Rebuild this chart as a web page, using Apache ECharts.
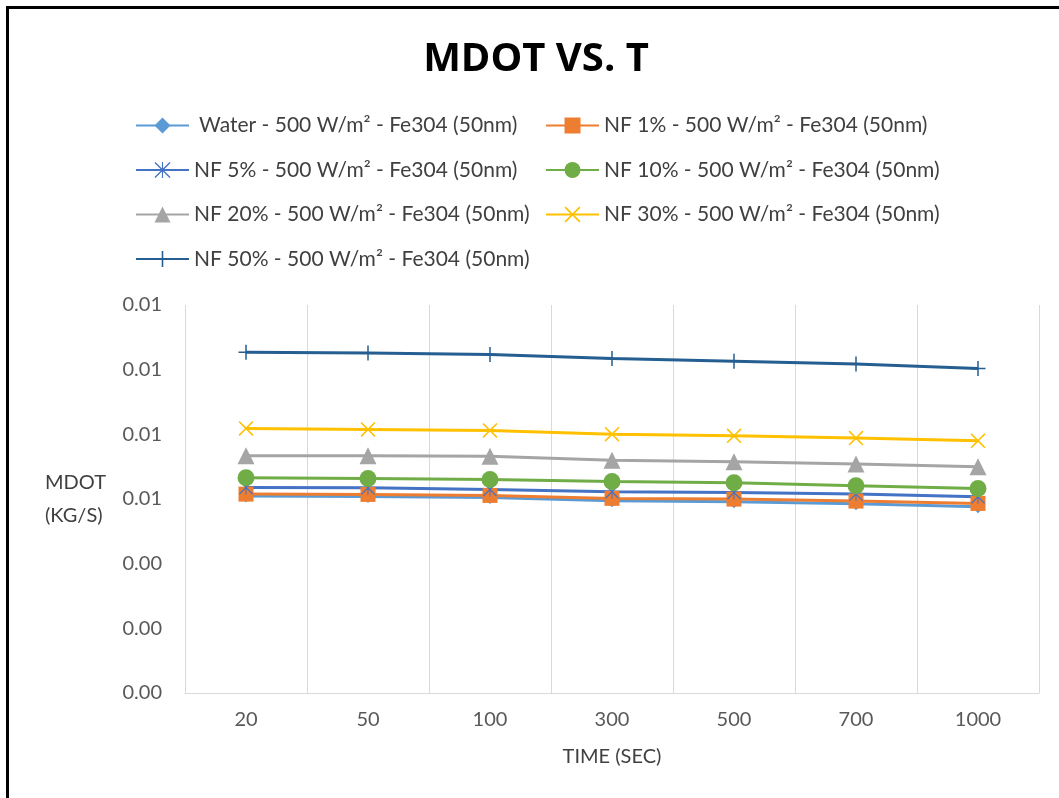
<!DOCTYPE html>
<html>
<head>
<meta charset="utf-8">
<script src="https://cdn.jsdelivr.net/npm/echarts@6/dist/echarts.min.js"></script>
<style>
  html, body { margin: 0; padding: 0; background: #fff; }
  #chart { width: 1059px; height: 798px; }
  #frame {
    position: absolute; left: 6px; top: 6px; right: 0; bottom: 0;
    border-top: 3px solid #000; border-left: 3px solid #000;
    pointer-events: none;
  }
</style>
</head>
<body>
<div id="chart"></div>
<div id="frame"></div>
<script>
// Time steps (seconds) on the category axis
const times = ['20', '50', '100', '300', '500', '700', '1000'];

// Mass flow rate (kg/s) per fluid
const water = [0.006090, 0.006080, 0.006049, 0.005944, 0.005913, 0.005852, 0.005759];
const nf1   = [0.006151, 0.006142, 0.006111, 0.006019, 0.005997, 0.005935, 0.005864];
const nf5   = [0.006359, 0.006346, 0.006297, 0.006223, 0.006204, 0.006151, 0.006068];
const nf10  = [0.006655, 0.006637, 0.006606, 0.006544, 0.006501, 0.006408, 0.006328];
const nf20  = [0.007335, 0.007335, 0.007326, 0.007202, 0.007150, 0.007079, 0.006995];
const nf30  = [0.008182, 0.008151, 0.008121, 0.008006, 0.007954, 0.007883, 0.007799];
const nf50  = [0.010541, 0.010519, 0.010470, 0.010346, 0.010263, 0.010179, 0.010037];

const names = [
  '\u00a0Water - 500 W/m\u00b2 - Fe304 (50nm)',
  'NF 1% - 500 W/m\u00b2 - Fe304 (50nm)',
  'NF 5% - 500 W/m\u00b2 - Fe304 (50nm)',
  'NF 10% - 500 W/m\u00b2 - Fe304 (50nm)',
  'NF 20% - 500 W/m\u00b2 - Fe304 (50nm)',
  'NF 30% - 500 W/m\u00b2 - Fe304 (50nm)',
  'NF 50% - 500 W/m\u00b2 - Fe304 (50nm)'
];

// Marker shapes
const xMark = 'path://M0,1.5 L1.5,0 L10,8.5 L18.5,0 L20,1.5 L11.5,10 L20,18.5 L18.5,20 L10,11.5 L1.5,20 L0,18.5 L8.5,10 Z';
const plusMark = 'path://M9,0 L11,0 L11,9 L20,9 L20,11 L11,11 L11,20 L9,20 L9,11 L0,11 L0,9 L9,9 Z';
const starMark = 'path://M0,1.2 L1.2,0 L10,8.8 L18.8,0 L20,1.2 L11.2,10 L20,18.8 L18.8,20 L10,11.2 L1.2,20 L0,18.8 L8.8,10 Z M9.3,0 L10.7,0 L10.7,20 L9.3,20 Z';

const FONT = 'Lato';

function line(name, data, color, symbol, size) {
  return {
    name: name,
    type: 'line',
    data: data,
    symbol: symbol,
    symbolSize: size,
    showSymbol: true,
    lineStyle: { color: color, width: 3 },
    itemStyle: { color: color, borderWidth: 0 },
    emphasis: { disabled: true }
  };
}

const legendText = { fontFamily: FONT, fontSize: 21, color: '#404040' };
const legendBase = {
  orient: 'vertical', top: 115, padding: 0,
  itemWidth: 53, itemHeight: 20, itemGap: 23.5,
  textStyle: legendText
};

const chart = echarts.init(document.getElementById('chart'), null, { renderer: 'canvas' });
chart.setOption({
  animation: false,
  backgroundColor: '#fff',
  title: {
    text: 'MDOT VS. T',
    left: 531, top: 35,
    textAlign: 'center',
    textStyle: { fontFamily: 'Open Sans', fontWeight: 'bold', fontSize: 40, color: '#000' }
  },
  legend: [
    Object.assign({ data: [names[0], names[2], names[4], names[6]], left: 135 }, legendBase),
    Object.assign({ data: [names[1], names[3], names[5]], left: 545 }, legendBase)
  ],
  grid: { left: 185, right: 20, top: 305, bottom: 105, containLabel: false },
  xAxis: {
    type: 'category',
    data: times,
    boundaryGap: true,
    name: 'TIME (SEC)',
    nameLocation: 'middle',
    nameGap: 54,
    nameTextStyle: { fontFamily: FONT, fontSize: 20, color: '#404040' },
    axisLine: { lineStyle: { color: '#d9d9d9', width: 1 } },
    axisTick: { show: false },
    axisLabel: { fontFamily: FONT, fontSize: 20, color: '#595959', margin: 17 },
    splitLine: { show: true, lineStyle: { color: '#d9d9d9', width: 1 } }
  },
  yAxis: {
    type: 'value',
    min: 0, max: 0.012, interval: 0.002,
    name: 'MDOT\n(KG/S)',
    nameLocation: 'middle',
    nameRotate: 0,
    nameGap: 140,
    nameTextStyle: { fontFamily: FONT, fontSize: 20, color: '#404040', align: 'left', lineHeight: 33, padding: [8, 0, 0, 0] },
    axisLine: { show: false },
    axisTick: { show: false },
    axisLabel: {
      fontFamily: FONT, fontSize: 20, color: '#595959', margin: 23,
      formatter: v => v.toFixed(2)
    },
    splitLine: { show: false }
  },
  series: [
    line(names[0], water, '#5B9BD5', 'diamond', 13),
    line(names[1], nf1, '#ED7D31', 'rect', 15),
    line(names[2], nf5, '#4472C4', starMark, 14),
    line(names[3], nf10, '#70AD47', 'circle', 17),
    line(names[4], nf20, '#A5A5A5', 'triangle', 17),
    line(names[5], nf30, '#FFC000', xMark, 15),
    line(names[6], nf50, '#255E91', plusMark, 15)
  ]
});
</script>
</body>
</html>
